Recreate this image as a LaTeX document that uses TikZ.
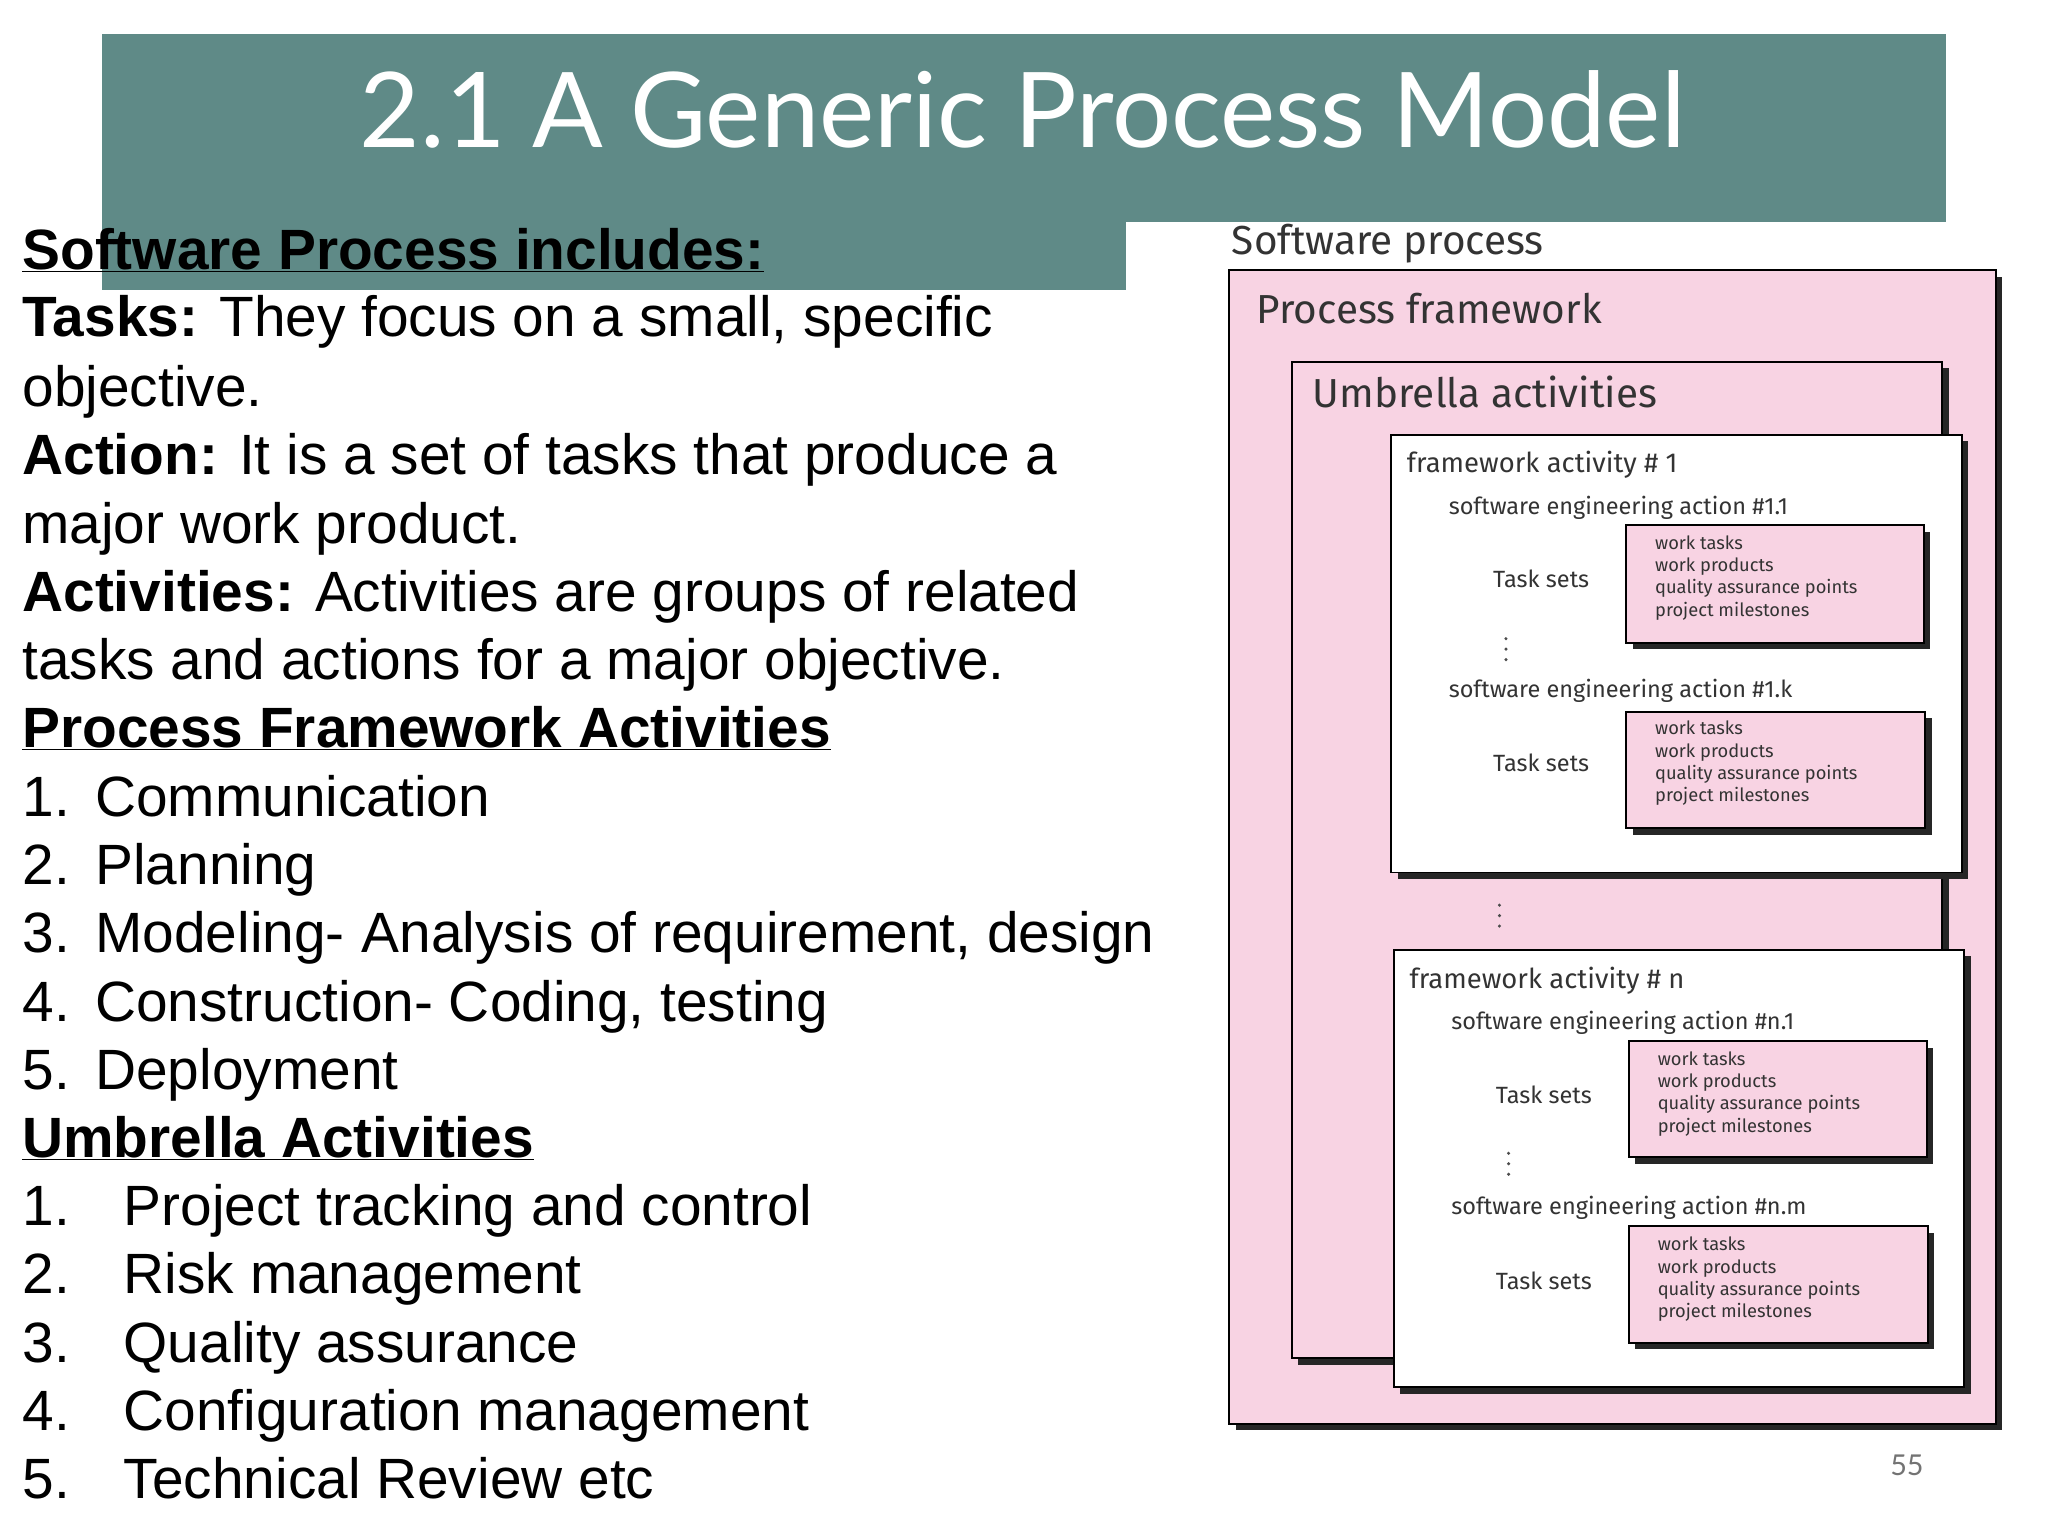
\documentclass[tikz,border=0pt]{standalone}
\usepackage{fontspec}
\usetikzlibrary{calc}
\setmainfont{Liberation Sans}
\newfontfamily\lato{Lato}
\newfontfamily\fira{Fira Sans}
\begin{document}
\begin{tikzpicture}[x=1pt,y=-1pt,
 body/.style={anchor=base west,inner sep=0pt,font=\fontsize{43.5}{43.5}\selectfont},
 pbox/.style={draw=black,line width=1.5pt,fill=pinkfill},
 wbox/.style={draw=black,line width=1.5pt,fill=white},
 shadow/.style={fill=black!85},
 dlab/.style={anchor=base west,inner sep=0pt,font=\fira\fontsize{31}{31}\selectfont,text=black!80},
 slab/.style={anchor=base west,inner sep=0pt,font=\fira\fontsize{18}{18}\selectfont,text=black!80},
 tlab/.style={anchor=north west,inner sep=0pt,align=left,font=\fira\fontsize{14}{17}\selectfont,text=black!80},
 dot/.style={fill=black!70}]
\definecolor{teal1}{HTML}{5F8A87}
\definecolor{pinkfill}{HTML}{F8D3E3}
\newcommand{\mydots}[1]{\foreach \k in {-8,0,8} {\fill[dot] ($(#1)+(0,\k)$) circle (1.3);}}
\useasboundingbox (0,0) rectangle (1568,1176);
\fill[white] (0,0) rectangle (1568,1176);
% title
\fill[teal1] (78,26) rectangle (1490,170);
\fill[teal1] (78,170) rectangle (862,222);
\node[text=white,font=\lato\fontsize{80}{80}\selectfont] (title) at (783,84) {2.1 A Generic Process Model};
% text
\node[body] (l1) at (17,206) {\textbf{\underline{Software Process includes:}}};
\node[body] (l2) at (17,258) {\textbf{Tasks:} They focus on a small, specific};
\node[body] (l3) at (17,311) {objective.};
\node[body] (l4) at (17,363) {\textbf{Action:} It is a set of tasks that produce a};
\node[body] (l5) at (17,416) {major work product.};
\node[body] (l6) at (17,468) {\textbf{Activities:} Activities are groups of related};
\node[body] (l7) at (17,520) {tasks and actions for a major objective.};
\node[body] (l8) at (17,572) {\textbf{\underline{Process Framework Activities}}};
\node[body] (l9) at (17,625) {1.\hspace{0.45em}Communication};
\node[body] (l10) at (17,677) {2.\hspace{0.45em}Planning};
\node[body] (l11) at (17,729) {3.\hspace{0.45em}Modeling-\hspace{0.3em}Analysis of requirement, design};
\node[body] (l12) at (17,782) {4.\hspace{0.45em}Construction- Coding, testing};
\node[body] (l13) at (17,834) {5.\hspace{0.45em}Deployment};
\node[body] (l14) at (17,886) {\textbf{\underline{Umbrella Activities}}};
\node[body] (l15) at (17,938) {1.\hspace{0.95em}Project tracking and control};
\node[body] (l16) at (17,990) {2.\hspace{0.95em}Risk management};
\node[body] (l17) at (17,1043) {3.\hspace{0.95em}Quality assurance};
\node[body] (l18) at (17,1095) {4.\hspace{0.95em}Configuration management};
\node[body] (l19) at (17,1147) {5.\hspace{0.95em}Technical Review etc};
% diagram
\node[dlab] (sp) at (943,195) {Software process};
\fill[shadow] (946,212) rectangle (1533,1095);
\draw[pbox] (941,207) rectangle (1528,1090);
\node[dlab] (pf) at (962,248) {Process framework};
\fill[shadow] (994,282) rectangle (1492,1045);
\draw[pbox] (989,277) rectangle (1487,1040);
\node[dlab] (ua) at (1005,312) {Umbrella activities};
% fa1
\fill[shadow] (1070,338) rectangle (1507,673);
\draw[wbox] (1065,333) rectangle (1502,668);
\node[slab] (fa1) at (1077,362) {\fontsize{21}{21}\selectfont framework activity \# 1};
\node[slab] (a11) at (1109,394) {software engineering action \#1.1};
\node[slab] (ts1) at (1143,450) {Task sets};
\fill[shadow] (1250,407) rectangle (1478,497);
\draw[pbox] (1245,402) rectangle (1473,492);
\node[tlab] (t1) at (1267,410) {work tasks\\work products\\quality assurance points\\project milestones};
\coordinate (d1) at (1153,497);
\mydots{d1}
\node[slab] (a1k) at (1109,534) {software engineering action \#1.k};
\node[slab] (ts2) at (1143,591) {Task sets};
\fill[shadow] (1250,550) rectangle (1479,639);
\draw[pbox] (1245,545) rectangle (1474,634);
\node[tlab] (t2) at (1267,552) {work tasks\\work products\\quality assurance points\\project milestones};
\coordinate (d2) at (1148,701);
\mydots{d2}
% fan
\fill[shadow] (1072,732) rectangle (1509,1067);
\draw[wbox] (1067,727) rectangle (1504,1062);
\node[slab] (fan) at (1079,757) {\fontsize{21}{21}\selectfont framework activity \# n};
\node[slab] (an1) at (1111,788) {software engineering action \#n.1};
\node[slab] (ts3) at (1145,845) {Task sets};
\fill[shadow] (1252,802) rectangle (1480,891);
\draw[pbox] (1247,797) rectangle (1475,886);
\node[tlab] (t3) at (1269,805) {work tasks\\work products\\quality assurance points\\project milestones};
\coordinate (d3) at (1155,891);
\mydots{d3}
\node[slab] (anm) at (1111,930) {software engineering action \#n.m};
\node[slab] (ts4) at (1145,987) {Task sets};
\fill[shadow] (1252,944) rectangle (1481,1033);
\draw[pbox] (1247,939) rectangle (1476,1028);
\node[tlab] (t4) at (1269,947) {work tasks\\work products\\quality assurance points\\project milestones};
\node[text=black!55,font=\lato\fontsize{22}{22}\selectfont] (pg) at (1460,1122) {55};
\end{tikzpicture}
\end{document}
